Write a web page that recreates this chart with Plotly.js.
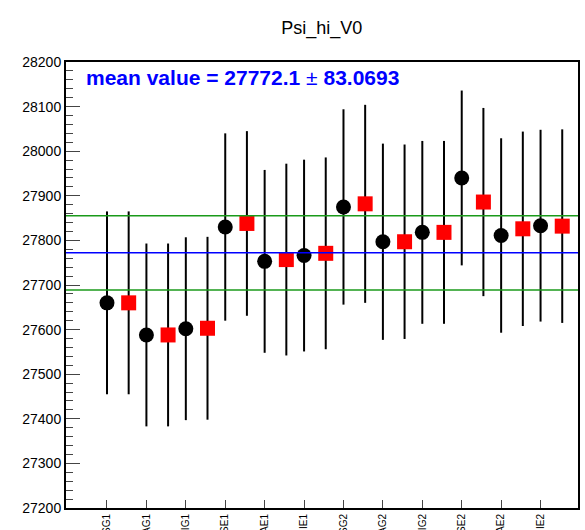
<!DOCTYPE html>
<html>
<head>
<script src="https://cdn.plot.ly/plotly-3.0.1.min.js"></script>
<style>body{margin:0;background:#fff}</style>
</head>
<body>
<div id="plot" style="width:585px;height:530px"></div>
<script>
// channel labels (cut off at the bottom in the original)
const labels = ["SG1", "AG1", "IG1", "SE1", "AE1", "IE1", "SG2", "AG2", "IG2", "SE2", "AE2", "IE2"]
const blackVal = [27660, 27588, 27602, 27830, 27753, 27766, 27875, 27797, 27818, 27940, 27811, 27833]
const blackErr = [205, 205, 205, 210, 205, 215, 219, 220, 205, 196, 218, 215]
const redVal = [27660, 27588, 27603, 27838, 27757, 27771, 27882, 27797, 27818, 27886, 27826, 27832]
const redErr = [205, 205, 205, 207, 215, 215, 222, 218, 205, 211, 218, 217]
const meanVal = 27772.1
const meanErr = 83.0693

const xb = labels.map((l, i) => i + 1)
const xr = labels.map((l, i) => i + 1.55)

const traces = [
  {
    x: xb, y: blackVal, type: 'scatter', mode: 'markers',
    marker: { symbol: 'circle', size: 15, color: 'black' },
    error_y: { type: 'data', array: blackErr, color: 'black', thickness: 2, width: 0 }
  },
  {
    x: xr, y: redVal, type: 'scatter', mode: 'markers',
    marker: { symbol: 'square', size: 15, color: 'red' },
    error_y: { type: 'data', array: redErr, color: 'black', thickness: 2, width: 0 }
  }
]

const hline = (y, color) => ({
  type: 'line', xref: 'paper', x0: 0, x1: 1, y0: y, y1: y,
  line: { color: color, width: 1.5 }
})

const layout = {
  width: 585, height: 530,
  margin: { l: 66, r: 7, t: 62, b: 22 },
  showlegend: false,
  paper_bgcolor: 'white', plot_bgcolor: 'white',
  font: { family: 'Liberation Sans, Arial, sans-serif', color: 'black' },
  title: { text: 'Psi_hi_V0', x: 0.55, y: 0.96, font: { size: 18 } },
  xaxis: {
    range: [-0.04, 12.95], tickvals: xb, ticktext: labels, tickangle: -90,
    showgrid: false, zeroline: false, showline: true, mirror: true,
    linecolor: 'black', linewidth: 2, ticks: 'inside', ticklen: 8,
    tickfont: { size: 10 }
  },
  yaxis: {
    range: [27200, 28200], dtick: 100, tickformat: 'd', showgrid: false, zeroline: false,
    showline: true, mirror: true, linecolor: 'black', linewidth: 2,
    ticks: 'inside', ticklen: 14, tickfont: { size: 14 },
    minor: { dtick: 20, ticks: 'inside', ticklen: 7 }
  },
  shapes: [
    hline(meanVal, 'blue'),
    hline(meanVal + meanErr, '#1a9a1a'),
    hline(meanVal - meanErr, '#1a9a1a')
  ],
  annotations: [{
    xref: 'paper', yref: 'paper', x: 0.035, y: 0.995, xanchor: 'left', yanchor: 'top',
    showarrow: false,
    text: '<b>mean value = ' + meanVal + '</b> ± <b>' + meanErr + '</b>',
    font: { size: 21, color: 'blue' }
  }]
}

Plotly.newPlot('plot', traces, layout, { displayModeBar: false })
</script>
</body>
</html>
